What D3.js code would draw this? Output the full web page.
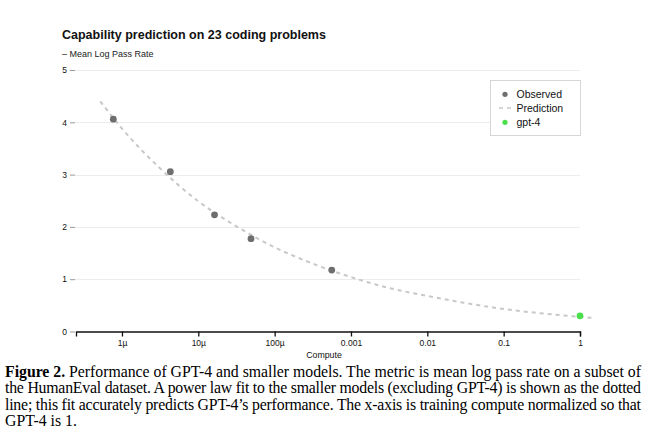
<!DOCTYPE html>
<html><head><meta charset="utf-8">
<script src="https://cdn.jsdelivr.net/npm/d3@7"></script>
<style>
html,body{margin:0;padding:0;background:#fff;}
svg{display:block;}
</style>
</head><body>
<svg id="chart" width="653" height="434"></svg>
<script>
// ---- data ----
const observedCompute = [7.7e-7, 4.3e-6, 1.63e-5, 4.9e-5, 5.6e-4];
const observedValue   = [4.06, 3.055, 2.23, 1.775, 1.175];
const gpt4Compute = [1];
const gpt4Value   = [0.30];
const predCompute = [5.2e-7, 1e-6, 3e-6, 1e-5, 3e-5, 1e-4, 3e-4, 1e-3, 3e-3, 1e-2, 3e-2, 0.1, 0.3, 1, 1.5];
const predValue   = [4.40, 3.88, 3.15, 2.49, 2.03, 1.61, 1.31, 1.04, 0.84, 0.68, 0.55, 0.43, 0.35, 0.28, 0.26];
const xTickValues = [1e-6, 1e-5, 1e-4, 1e-3, 1e-2, 1e-1, 1];
const xTickLabels = ["1µ", "10µ", "100µ", "0.001", "0.01", "0.1", "1"];
const yTickValues = [0, 1, 2, 3, 4, 5];
const legendLabels = ["Observed", "Prediction", "gpt-4"];
const captionLines = [
  "Figure 2. Performance of GPT-4 and smaller models. The metric is mean log pass rate on a subset of",
  "the HumanEval dataset. A power law fit to the smaller models (excluding GPT-4) is shown as the dotted",
  "line; this fit accurately predicts GPT-4’s performance. The x-axis is training compute normalized so that",
  "GPT-4 is 1."
];

const svg = d3.select("#chart");
const sans = "'Liberation Sans', Arial, Helvetica, sans-serif";
const serif = "'Liberation Serif', 'Times New Roman', serif";

const x = d3.scaleLog().domain([2.5e-7, 1]).range([76, 580]);
const y = d3.scaleLinear().domain([0, 5]).range([331.5, 70]);

// title
svg.append("text").attr("x", 62).attr("y", 38.5)
  .attr("font-family", sans).attr("font-weight", "bold").attr("font-size", 12.5)
  .attr("fill", "#111").text("Capability prediction on 23 coding problems");
svg.append("text").attr("x", 62).attr("y", 56.5)
  .attr("font-family", sans).attr("font-size", 9)
  .attr("fill", "#222").text("– Mean Log Pass Rate");

// grid
svg.append("g").selectAll("line").data(yTickValues.filter(d => d > 0)).join("line")
  .attr("x1", 75).attr("x2", 580)
  .attr("y1", d => Math.round(y(d)) + 0.5).attr("y2", d => Math.round(y(d)) + 0.5)
  .attr("stroke", "#ececec").attr("stroke-width", 1);

// y axis (ticks + labels only)
const yAxis = svg.append("g").attr("transform", "translate(75,0)")
  .call(d3.axisLeft(y).tickValues(yTickValues).tickSize(5).tickPadding(3).tickFormat(d3.format("d")));
yAxis.select(".domain").remove();
yAxis.selectAll(".tick line").attr("stroke", "#999");
yAxis.selectAll(".tick text").attr("font-family", sans).attr("font-size", 8.5).attr("fill", "#111");

// x axis
const xAxis = svg.append("g").attr("transform", `translate(0,${y(0)})`)
  .call(d3.axisBottom(x).tickValues(xTickValues).tickSize(5).tickSizeOuter(5).tickPadding(3)
    .tickFormat((d, i) => xTickLabels[i]));
xAxis.select(".domain").attr("stroke", "#111").attr("stroke-width", 1.3);
xAxis.selectAll(".tick line").attr("stroke", "#111").attr("stroke-width", 1.3);
xAxis.selectAll(".tick text").attr("font-family", sans).attr("font-size", 8.5).attr("fill", "#111");
svg.append("text").attr("x", 324).attr("y", 358).attr("text-anchor", "middle")
  .attr("font-family", sans).attr("font-size", 8.8).attr("fill", "#111").text("Compute");

// prediction line
const predData = predCompute.map((c, i) => [c, predValue[i]]);
svg.append("path").datum(predData)
  .attr("d", d3.line().x(d => x(d[0])).y(d => y(d[1])).curve(d3.curveMonotoneX))
  .attr("fill", "none").attr("stroke", "#c8c8c8").attr("stroke-width", 2)
  .attr("stroke-dasharray", "4,4");

// observed
svg.append("g").selectAll("circle").data(observedCompute).join("circle")
  .attr("cx", d => x(d)).attr("cy", (d, i) => y(observedValue[i])).attr("r", 3.4)
  .attr("fill", "#6e6e6e");
// gpt-4
svg.append("g").selectAll("circle").data(gpt4Compute).join("circle")
  .attr("cx", d => x(d)).attr("cy", (d, i) => y(gpt4Value[i])).attr("r", 3.4)
  .attr("fill", "#4cdf4c");

// legend
const lg = svg.append("g");
lg.append("rect").attr("x", 490.5).attr("y", 80.5).attr("width", 90).attr("height", 55)
  .attr("fill", "#fff").attr("stroke", "#d6d6d6");
const ly = [94.3, 108, 122.3];
lg.append("circle").attr("cx", 505).attr("cy", ly[0]).attr("r", 2.6).attr("fill", "#6e6e6e");
lg.append("line").attr("x1", 499).attr("x2", 511).attr("y1", ly[1]).attr("y2", ly[1])
  .attr("stroke", "#c8c8c8").attr("stroke-width", 1.5).attr("stroke-dasharray", "4,4");
lg.append("circle").attr("cx", 505).attr("cy", ly[2]).attr("r", 2.6).attr("fill", "#4cdf4c");
lg.selectAll("text.l").data(legendLabels).join("text").attr("class", "l")
  .attr("x", 516.5).attr("y", (d, i) => ly[i] + 3.7)
  .attr("font-family", sans).attr("font-size", 10.5).attr("fill", "#111").text(d => d);

// caption
const capY = [377, 393.3, 409.6, 426];
const cap = svg.append("g").attr("font-family", serif).attr("font-size", 15.8).attr("fill", "#000");
captionLines.forEach((line, i) => {
  const t = cap.append("text").attr("x", 5).attr("y", capY[i]);
  if (i === 0) {
    const label = "Figure 2.";
    t.append("tspan").attr("font-weight", "bold").text(label);
    t.append("tspan").text(line.slice(label.length));
  } else {
    t.text(line);
  }
  if (i < 3) t.attr("textLength", 636).attr("lengthAdjust", "spacing");
});
</script>
</body></html>
